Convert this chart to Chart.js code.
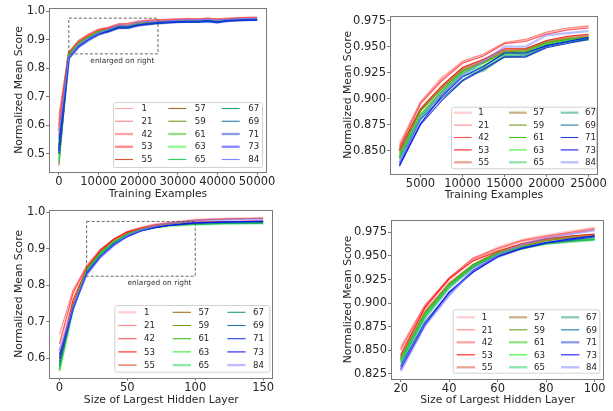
<!DOCTYPE html>
<html><head><meta charset="utf-8">
<script src="https://cdn.jsdelivr.net/npm/chart.js@4.4.1/dist/chart.umd.min.js"></script>
<style>
html,body{margin:0;padding:0;background:#fff;}
#wrap{position:relative;width:613px;height:411px;overflow:hidden;background:#fff;}
canvas{position:absolute;left:0;top:0;}
</style></head><body>
<div id="wrap">
<canvas id="c1" width="613" height="411"></canvas>
<canvas id="c2" width="613" height="411"></canvas>
<canvas id="c3" width="613" height="411"></canvas>
<canvas id="c4" width="613" height="411"></canvas>
</div>
<script>
// ---------- data ----------
const seriesLabels = ['1','21','42','53','55','57','59','61','63','65','67','69','71','73','84'];

const trainX = [0,2500,5000,7500,10000,12500,15000,17500,20000,22500,25000,27500,30000,32500,35000,37500,40000,42500,45000,47500,50000];
const tr_1  = [0.64,0.857,0.896,0.920,0.935,0.942,0.953,0.956,0.963,0.967,0.969,0.970,0.971,0.972,0.972,0.975,0.972,0.974,0.976,0.978,0.978];
const tr_21 = [0.62,0.855,0.897,0.919,0.936,0.943,0.954,0.957,0.964,0.968,0.970,0.971,0.972,0.973,0.973,0.974,0.973,0.974,0.975,0.977,0.977];
const tr_42 = [0.60,0.853,0.895,0.917,0.934,0.941,0.953,0.955,0.962,0.966,0.968,0.969,0.971,0.972,0.971,0.973,0.971,0.973,0.975,0.976,0.977];
const tr_53 = [0.58,0.851,0.890,0.912,0.930,0.938,0.948,0.948,0.956,0.960,0.962,0.965,0.967,0.968,0.968,0.970,0.967,0.970,0.972,0.973,0.974];
const tr_55 = [0.56,0.850,0.890,0.911,0.929,0.937,0.947,0.948,0.955,0.959,0.961,0.964,0.966,0.967,0.967,0.969,0.966,0.969,0.971,0.972,0.973];
const tr_57 = [0.46,0.849,0.889,0.910,0.928,0.936,0.946,0.947,0.955,0.958,0.960,0.963,0.965,0.966,0.966,0.968,0.965,0.969,0.970,0.971,0.972];
const tr_59 = [0.50,0.847,0.888,0.909,0.927,0.935,0.945,0.946,0.954,0.957,0.959,0.962,0.964,0.965,0.965,0.967,0.964,0.968,0.969,0.970,0.971];
const tr_61 = [0.52,0.845,0.885,0.907,0.926,0.934,0.944,0.945,0.953,0.957,0.959,0.961,0.963,0.964,0.964,0.966,0.964,0.967,0.968,0.969,0.970];
const tr_63 = [0.48,0.844,0.884,0.906,0.925,0.932,0.943,0.944,0.952,0.956,0.958,0.961,0.963,0.964,0.964,0.966,0.963,0.967,0.968,0.969,0.970];
const tr_65 = [0.47,0.843,0.882,0.905,0.924,0.930,0.942,0.943,0.951,0.955,0.957,0.960,0.962,0.963,0.963,0.965,0.962,0.966,0.967,0.968,0.968];
const tr_67 = [0.53,0.842,0.881,0.903,0.922,0.927,0.941,0.942,0.951,0.955,0.957,0.960,0.962,0.963,0.963,0.965,0.962,0.966,0.967,0.968,0.968];
const tr_69 = [0.55,0.838,0.880,0.900,0.918,0.929,0.940,0.941,0.950,0.954,0.958,0.960,0.962,0.963,0.962,0.964,0.961,0.966,0.967,0.968,0.969];
const tr_71 = [0.50,0.835,0.875,0.898,0.917,0.928,0.940,0.940,0.949,0.953,0.957,0.959,0.961,0.962,0.962,0.964,0.960,0.965,0.967,0.968,0.969];
const tr_73 = [0.51,0.836,0.876,0.902,0.921,0.931,0.944,0.944,0.951,0.955,0.959,0.961,0.962,0.963,0.963,0.965,0.960,0.966,0.968,0.969,0.970];
const tr_84 = [0.57,0.839,0.882,0.905,0.923,0.936,0.950,0.950,0.961,0.963,0.965,0.966,0.968,0.969,0.969,0.971,0.968,0.971,0.973,0.974,0.975];

const hiddenX = [0,10,20,30,40,50,60,70,80,90,100,110,120,130,140,150];
const hl_1  = [0.620,0.775,0.854,0.897,0.925,0.946,0.959,0.967,0.972,0.976,0.980,0.981,0.982,0.983,0.984,0.984];
const hl_21 = [0.665,0.788,0.852,0.898,0.927,0.948,0.958,0.966,0.971,0.975,0.979,0.981,0.982,0.983,0.983,0.985];
const hl_42 = [0.640,0.780,0.850,0.896,0.926,0.947,0.957,0.966,0.970,0.974,0.978,0.980,0.981,0.982,0.983,0.983];
const hl_53 = [0.600,0.760,0.845,0.895,0.926,0.945,0.955,0.963,0.968,0.971,0.973,0.974,0.975,0.975,0.976,0.976];
const hl_55 = [0.590,0.750,0.843,0.891,0.921,0.941,0.954,0.961,0.967,0.970,0.972,0.973,0.974,0.974,0.975,0.975];
const hl_57 = [0.580,0.745,0.842,0.890,0.920,0.940,0.954,0.961,0.967,0.970,0.972,0.973,0.973,0.974,0.974,0.974];
const hl_59 = [0.575,0.742,0.841,0.889,0.920,0.941,0.953,0.960,0.966,0.969,0.971,0.972,0.972,0.973,0.973,0.973];
const hl_61 = [0.570,0.740,0.840,0.888,0.919,0.940,0.952,0.959,0.964,0.966,0.968,0.969,0.970,0.970,0.971,0.971];
const hl_63 = [0.565,0.738,0.840,0.887,0.918,0.939,0.952,0.959,0.963,0.966,0.967,0.968,0.969,0.970,0.970,0.970];
const hl_65 = [0.568,0.736,0.838,0.886,0.918,0.939,0.951,0.958,0.963,0.965,0.967,0.968,0.969,0.969,0.970,0.970];
const hl_67 = [0.580,0.735,0.837,0.884,0.916,0.938,0.951,0.958,0.963,0.966,0.968,0.969,0.970,0.970,0.971,0.971];
const hl_69 = [0.590,0.732,0.834,0.880,0.911,0.935,0.950,0.958,0.964,0.967,0.970,0.971,0.972,0.972,0.973,0.973];
const hl_71 = [0.600,0.735,0.832,0.878,0.910,0.934,0.949,0.958,0.964,0.967,0.971,0.972,0.973,0.974,0.974,0.975];
const hl_73 = [0.610,0.738,0.830,0.877,0.912,0.933,0.949,0.958,0.964,0.968,0.971,0.972,0.973,0.974,0.975,0.976];
const hl_84 = [0.620,0.740,0.828,0.876,0.908,0.936,0.951,0.962,0.969,0.973,0.977,0.978,0.979,0.980,0.981,0.981];

const ticksTrainX = [0,10000,20000,30000,40000,50000];
const ticksTrainY = [0.5,0.6,0.7,0.8,0.9,1.0];
const ticksZoomTrainX = [5000,10000,15000,20000,25000];
const ticksZoomTrainY = [0.850,0.875,0.900,0.925,0.950,0.975];
const ticksHiddenX = [0,50,100,150];
const ticksHiddenY = [0.6,0.7,0.8,0.9,1.0];
const ticksZoomHiddenX = [20,40,60,80,100];
const ticksZoomHiddenY = [0.825,0.850,0.875,0.900,0.925,0.950,0.975];

const trainSeries = [tr_1,tr_21,tr_42,tr_53,tr_55,tr_57,tr_59,tr_61,tr_63,tr_65,tr_67,tr_69,tr_71,tr_73,tr_84];
const hiddenSeries = [hl_1,hl_21,hl_42,hl_53,hl_55,hl_57,hl_59,hl_61,hl_63,hl_65,hl_67,hl_69,hl_71,hl_73,hl_84];

// ---------- styles ----------
const baseColors = ['#ffa0a0','#ff8080','#ff4848','#ff1010','#d84a28','#9a6418','#6a9a10','#30c010','#28f028','#22cc55','#129a72','#1a72aa','#1838c8','#1010ff','#7c7cff'];
const thickTL = [0,0,1,1,0,0,0,1,1,0,0,0,1,1,0];
const thickTR = [1,0,0,0,1,1,0,0,0,1,1,0,0,0,1];
const thickBL = [1,0,0,0,0,0,0,0,0,1,0,0,0,0,1];
const thickBR = [1,0,1,0,1,1,0,1,0,1,1,0,1,0,1];

const FONT = "'DejaVu Sans', 'Liberation Sans', sans-serif";
const TXT = '#262626';
const TICK_SIZE = 11.5;
const TITLE_SIZE = 10.8;
const HALF_TITLE = TITLE_SIZE * 1.2 / 2;

function rgba(hex,a){
  const r=parseInt(hex.slice(1,3),16),g=parseInt(hex.slice(3,5),16),b=parseInt(hex.slice(5,7),16);
  return `rgba(${r},${g},${b},${a})`;
}

function makePanel(id, xs, series, from, to, thick, cfg){
  const n = series.length;
  const datasets = series.map((s,i)=>({
    label: seriesLabels[i],
    data: xs.slice(from,to).map((x,j)=>({x:x, y:s[from+j]})),
    borderColor: thick[i] ? rgba(baseColors[i],0.5) : rgba(baseColors[i],0.95),
    borderWidth: thick[i] ? 2.3 : 1.1,
    pointRadius:0, tension:0, fill:false,
    order: n - i
  }));
  const a = cfg.area;
  const padLeft = cfg.yTitleX - HALF_TITLE;
  const xAxisH = cfg.xTitleY + HALF_TITLE - a.bottom;
  const padBottom = 411 - cfg.xTitleY - HALF_TITLE;

  const framePlugin = {
    id:'frame'+id,
    afterDatasetsDraw(chart){
      const c = chart.ctx, ca = chart.chartArea;
      c.save();
      c.strokeStyle = '#7a7a7a'; c.lineWidth = 1;
      c.strokeRect(Math.round(ca.left)+0.5, Math.round(ca.top)+0.5, Math.round(ca.right-ca.left)-1, Math.round(ca.bottom-ca.top));
      if (cfg.zoomBox){
        const zb = cfg.zoomBox, xs_ = chart.scales.x, ys_ = chart.scales.y;
        const x0 = xs_.getPixelForValue(zb.x0), x1 = xs_.getPixelForValue(zb.x1);
        const y0 = ys_.getPixelForValue(zb.y1), y1 = ys_.getPixelForValue(zb.y0);
        c.setLineDash([3,2]); c.strokeStyle = '#555'; c.lineWidth = 0.9;
        c.strokeRect(x0, y0, x1-x0, y1-y0);
        c.setLineDash([]);
        c.fillStyle = '#333'; c.font = `7.4px ${FONT}`;
        c.textAlign = 'center'; c.textBaseline = 'middle';
        c.fillText('enlarged on right', xs_.getPixelForValue(zb.tx), ys_.getPixelForValue(zb.ty));
      }
      c.restore();
    },
    afterDraw(chart){
      const c = chart.ctx, L = cfg.legend;
      c.save();
      c.fillStyle = 'rgba(255,255,255,0.9)';
      c.strokeStyle = '#d2d2d2'; c.lineWidth = 1;
      c.beginPath();
      c.roundRect(L.x0+0.5, L.y0+0.5, L.x1-L.x0, L.y1-L.y0, 2);
      c.fill(); c.stroke();
      c.font = `8.6px ${FONT}`; c.textBaseline = 'middle'; c.textAlign = 'left';
      chart.data.datasets.forEach((ds,i)=>{
        const col = Math.floor(i/5), row = i%5;
        const y = L.row0 + row*L.rowGap;
        const x = L.cols[col];
        c.strokeStyle = ds.borderColor; c.lineWidth = ds.borderWidth;
        c.beginPath(); c.moveTo(x,y); c.lineTo(x+L.lineLen,y); c.stroke();
        c.fillStyle = TXT;
        c.fillText(ds.label, x+L.textOff, y+0.5);
      });
      c.restore();
    }
  };

  const tickFont = {family:FONT, size:TICK_SIZE};
  new Chart(document.getElementById(id), {
    type:'line',
    data:{datasets},
    options:{
      responsive:false, animation:false, devicePixelRatio:1,
      layout:{padding:{left:padLeft, top:a.top, right:613-a.right, bottom:padBottom}},
      plugins:{legend:{display:false}, tooltip:{enabled:false}},
      scales:{
        x:{
          type:'linear', min:cfg.xMin, max:cfg.xMax,
          afterBuildTicks:(s)=>{ s.ticks = cfg.xTicks.map(v=>({value:v})); },
          afterFit:(s)=>{ s.height = xAxisH; },
          ticks:{font:tickFont, color:TXT, padding:0, maxRotation:0, autoSkip:false, callback:(v)=>String(v)},
          grid:{display:true, drawOnChartArea:false, drawTicks:true, tickLength:3, tickColor:'#555', tickWidth:0.8},
          border:{display:false},
          title:{display:true, text:cfg.xTitle, font:{family:FONT, size:TITLE_SIZE}, color:TXT, padding:{top:0,bottom:0}}
        },
        y:{
          type:'linear', min:cfg.yMin, max:cfg.yMax,
          afterBuildTicks:(s)=>{ s.ticks = cfg.yTicks.map(v=>({value:v})); },
          afterFit:(s)=>{ s.width = a.left - padLeft; },
          ticks:{font:tickFont, color:TXT, padding:1, autoSkip:false, callback:(v)=>Number(v).toFixed(cfg.yDec)},
          grid:{display:true, drawOnChartArea:false, drawTicks:true, tickLength:3, tickColor:'#555', tickWidth:0.8},
          border:{display:false},
          title:{display:true, text:'Normalized Mean Score', font:{family:FONT, size:TITLE_SIZE}, color:TXT, padding:{top:0,bottom:0}}
        }
      }
    },
    plugins:[framePlugin]
  });
}

makePanel('c1', trainX, trainSeries, 0, trainX.length, thickTL, {
  area:{left:49, top:8, right:267, bottom:172}, yTitleX:19.5, xTitleY:194.5,
  xMin:-2500, xMax:52500, yMin:0.437, yMax:1.0105, xTicks:ticksTrainX, yTicks:ticksTrainY, yDec:1,
  xTitle:'Training Examples',
  zoomBox:{x0:2500, x1:25000, y0:0.85, y1:0.975, tx:16000, ty:0.826},
  legend:{x0:113, y0:102, x1:262, y1:167, row0:108.5, rowGap:12.75, cols:[115,168.3,221.7], lineLen:18, textOff:26.5}
});
makePanel('c2', trainX, trainSeries, 1, 11, thickTR, {
  area:{left:390, top:15.7, right:598, bottom:174}, yTitleX:348, xTitleY:195,
  xMin:1375, xMax:26125, yMin:0.8276, yMax:0.9798, xTicks:ticksZoomTrainX, yTicks:ticksZoomTrainY, yDec:3,
  xTitle:'Training Examples',
  legend:{x0:451, y0:106.7, x1:596, y1:168.3, row0:112.7, rowGap:12.4, cols:[454,509,560.7], lineLen:17.7, textOff:24.3}
});
makePanel('c3', hiddenX, hiddenSeries, 0, hiddenX.length, thickBL, {
  area:{left:49.3, top:210, right:273.3, bottom:377.7}, yTitleX:19.5, xTitleY:400,
  xMin:-7.5, xMax:157.5, yMin:0.547, yMax:1.0063, xTicks:ticksHiddenX, yTicks:ticksHiddenY, yDec:1,
  xTitle:'Size of Largest Hidden Layer',
  zoomBox:{x0:20, x1:100, y0:0.825, y1:0.975, tx:73.7, ty:0.8055},
  legend:{x0:114.3, y0:305, x1:269.3, y1:371.7, row0:312.3, rowGap:13.2, cols:[118.3,172.7,227.3], lineLen:18.3, textOff:25.7}
});
makePanel('c4', hiddenX, hiddenSeries, 2, 11, thickBR, {
  area:{left:391, top:220, right:604.3, bottom:379}, yTitleX:348, xTitleY:400,
  xMin:16, xMax:104, yMin:0.8197, yMax:0.988, xTicks:ticksZoomHiddenX, yTicks:ticksZoomHiddenY, yDec:3,
  xTitle:'Size of Largest Hidden Layer',
  legend:{x0:452.7, y0:309.3, x1:599.3, y1:372.7, row0:317.3, rowGap:12.5, cols:[456.7,509,561], lineLen:18.3, textOff:25}
});
</script>
</body></html>
